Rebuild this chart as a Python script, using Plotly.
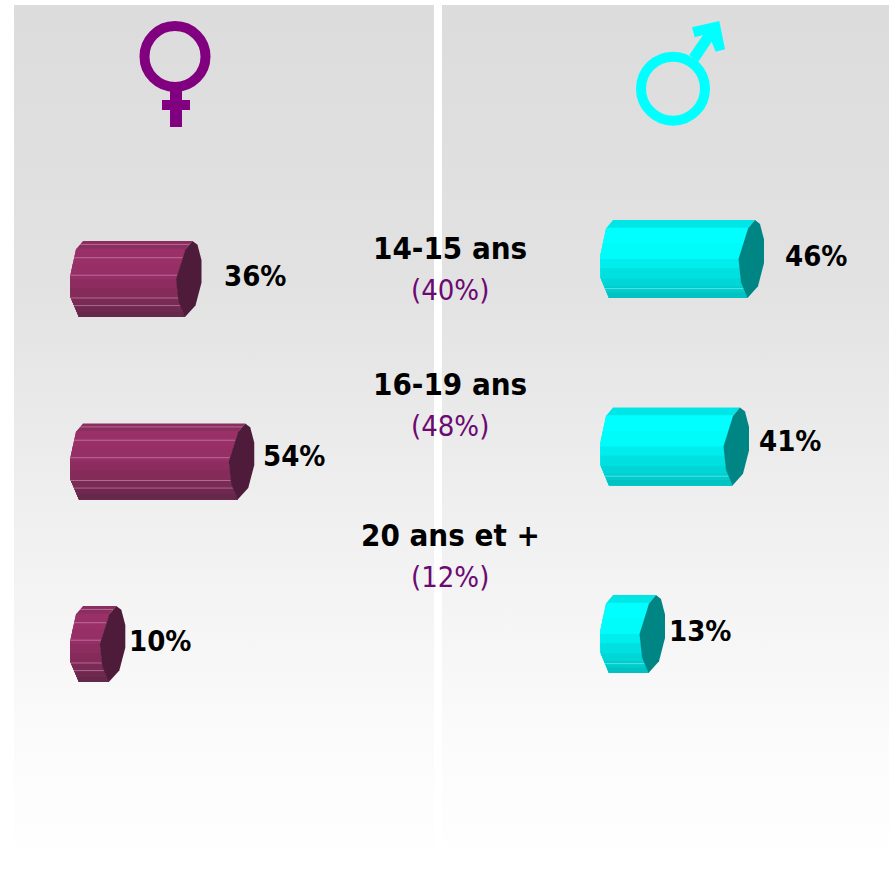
import numpy as np
import plotly.graph_objects as go

W, H = 889, 869

# ---- data ----
categories = ["14-15 ans", "16-19 ans", "20 ans et +"]
overall = [40, 48, 12]
female = [36, 54, 10]
male = [46, 41, 13]
value_fmt = "{}%"
overall_fmt = "({}%)"

# ---- style ----
F_BODY = ["#8a2d5f", "#9a3068", "#952f65", "#8c2c5f", "#842b5a", "#7a2a55", "#702850", "#64284a"]
M_BODY = ["#00e6e6", "#00ffff", "#00fbfb", "#00eded", "#00e0e0", "#00d6d6", "#00cccc", "#00c2c2"]
STRIP_F = [0, .10, .30, .50, .62, .75, .85, .93, 1]
F_CAP, M_CAP = "#4f1b3a", "#008585"
F_LINE, M_LINE = "rgba(225,170,205,.5)", "rgba(190,255,255,.45)"
F_LINES = [.045, .22, .45, .75, .85]
M_LINES = [.88]
FONT = "DejaVu Sans Condensed"
PURPLE = "#6b0a72"

# cross-section outline, pixels relative to the bar end, by fraction of height
L_F = [0, .11, .47, .74, 1]
L_X = [0, -7, -13, -12.5, -4]
CAP_L_F = [0, .11, .5, .8, 1]
CAP_L_X = [4, -3, -12.5, -10, -3.5]
CAP_R_F = [0, .05, .25, .55, .85, 1]
CAP_R_X = [4, 9, 13, 13, 7, -3.5]


def side(px_zero, px_per_unit, py_first, py_step, half_h):
    x_rng = [-px_zero / px_per_unit, (W - px_zero) / px_per_unit]
    y_rng = [-py_first / py_step, (H - py_first) / py_step]
    return dict(sx=px_per_unit, hh=half_h / py_step, xr=x_rng, yr=y_rng)


FEM = side(83, 2.93, 279, 182.5, 38)
MAL = side(613, 3.0, 259, 187.5, 39)

fig = go.Figure()


def poly(xs, ys, color, xa, ya):
    fig.add_trace(go.Scatter(x=xs, y=ys, mode="lines", fill="toself", fillcolor=color,
                             line=dict(width=0), hoverinfo="skip", showlegend=False,
                             xaxis=xa, yaxis=ya))


def cylinder(val, idx, s, colors, cap, line_c, lines, xa, ya):
    def yf(f):
        return idx - s["hh"] + 2 * s["hh"] * np.asarray(f, float)

    def left(f):
        return np.interp(f, L_F, L_X) / s["sx"]

    def right(f):
        return val + np.interp(f, CAP_L_F, CAP_L_X) / s["sx"]

    # each strip runs down to the bottom edge and is overpainted by the next one
    for i, c in enumerate(colors):
        f = np.unique(np.r_[STRIP_F[i], np.array(L_F)[np.array(L_F) > STRIP_F[i]],
                            np.array(CAP_L_F)[np.array(CAP_L_F) > STRIP_F[i]]])
        xs = np.r_[left(f), right(f)[::-1]]
        ys = np.r_[yf(f), yf(f)[::-1]]
        poly(xs, ys, c, xa, ya)
    for f in lines:
        fig.add_trace(go.Scatter(x=[left(f), right(f)], y=[yf(f), yf(f)], mode="lines",
                                 line=dict(color=line_c, width=1), hoverinfo="skip",
                                 showlegend=False, xaxis=xa, yaxis=ya))
    cl = np.array(CAP_L_F)
    cr = np.array(CAP_R_F)[::-1]
    xs = np.r_[val + np.array(CAP_L_X) / s["sx"], val + np.array(CAP_R_X)[::-1] / s["sx"]]
    ys = np.r_[yf(cl), yf(cr)]
    poly(xs, ys, cap, xa, ya)


# background gradient, drawn on a pixel axis
for x0, x1 in [(14, 434), (442, 889)]:
    fig.add_trace(go.Scatter(x=[x0, x1, x1, x0, x0], y=[5, 5, H, H, 5], mode="lines", fill="toself",
                             line=dict(width=0), hoverinfo="skip", showlegend=False,
                             fillgradient=dict(type="vertical", colorscale=[[0, "#ffffff"], [.15, "#fbfbfb"], [.4, "#f0f0f0"], [.68, "#e2e2e2"], [1, "#dcdcdc"]]),
                             xaxis="x", yaxis="y"))

for i, v in enumerate(female):
    cylinder(v, i, FEM, F_BODY, F_CAP, F_LINE, F_LINES, "x2", "y2")
for i, v in enumerate(male):
    cylinder(v, i, MAL, M_BODY, M_CAP, M_LINE, M_LINES, "x3", "y3")

ann = []
# labels to the right of each bar, pixel gap after the bar end
f_gap, m_gap = [34, 20, 15], [32, 21, 15]
f_dy, m_dy = [-3, -6, -3], [-3, -6, -3]
for i, v in enumerate(female):
    ann.append(dict(x=v, y=i, xref="x2", yref="y2", text=value_fmt.format(v), xanchor="left",
                    xshift=f_gap[i], yshift=-f_dy[i], showarrow=False,
                    font=dict(family=FONT, size=29, color="#000", weight="bold")))
for i, v in enumerate(male):
    ann.append(dict(x=v, y=i, xref="x3", yref="y3", text=value_fmt.format(v), xanchor="left",
                    xshift=m_gap[i], yshift=-m_dy[i], showarrow=False,
                    font=dict(family=FONT, size=29, color="#000", weight="bold")))
for c, o, y1 in zip(categories, overall, [248, 384, 535]):
    ann.append(dict(x=450, y=y1, xref="x", yref="y", text=c, showarrow=False,
                    font=dict(family=FONT, size=31, color="#000", weight="bold")))
    ann.append(dict(x=449.5, y=y1 + 42, xref="x", yref="y", text=overall_fmt.format(o), showarrow=False,
                    font=dict(family=FONT, size=29, color=PURPLE)))

VIOLET, CYAN = "#800080", "#00ffff"
shapes = [
    dict(type="circle", xref="x", yref="y", x0=144.5, x1=205.5, y0=26, y1=87,
         line=dict(color=VIOLET, width=10)),
    dict(type="rect", xref="x", yref="y", x0=170, x1=182, y0=85, y1=127, fillcolor=VIOLET, line_width=0),
    dict(type="rect", xref="x", yref="y", x0=162, x1=190, y0=100, y1=110, fillcolor=VIOLET, line_width=0),
    dict(type="circle", xref="x", yref="y", x0=641, x1=705, y0=56.7, y1=120.7,
         line=dict(color=CYAN, width=10)),
    dict(type="path", xref="x", yref="y", fillcolor=CYAN, line_width=0,
         path="M692,27.3 L719.3,21 L725,49.3 L715.7,51.7 L711.7,41.7 L698.3,61.7 L689.3,55 L703,35 L694.7,37.3 Z"),
]

layout = dict(width=W, height=H, margin=dict(l=0, r=0, t=0, b=0), paper_bgcolor="#fff",
              plot_bgcolor="rgba(0,0,0,0)", showlegend=False, annotations=ann, shapes=shapes)
base = dict(visible=False, domain=[0, 1], fixedrange=True)
layout["xaxis"] = dict(base, range=[0, W], anchor="y")
layout["yaxis"] = dict(base, range=[H, 0], anchor="x")
layout["xaxis2"] = dict(base, range=FEM["xr"], overlaying="x", anchor="y2")
layout["yaxis2"] = dict(base, range=FEM["yr"][::-1], overlaying="y", anchor="x2")
layout["xaxis3"] = dict(base, range=MAL["xr"], overlaying="x", anchor="y3")
layout["yaxis3"] = dict(base, range=MAL["yr"][::-1], overlaying="y", anchor="x3")
fig.update_layout(**layout)
fig.write_html("out.html", config=dict(displayModeBar=False),
               post_script="document.body.style.margin='0';document.body.style.overflow='hidden';")
